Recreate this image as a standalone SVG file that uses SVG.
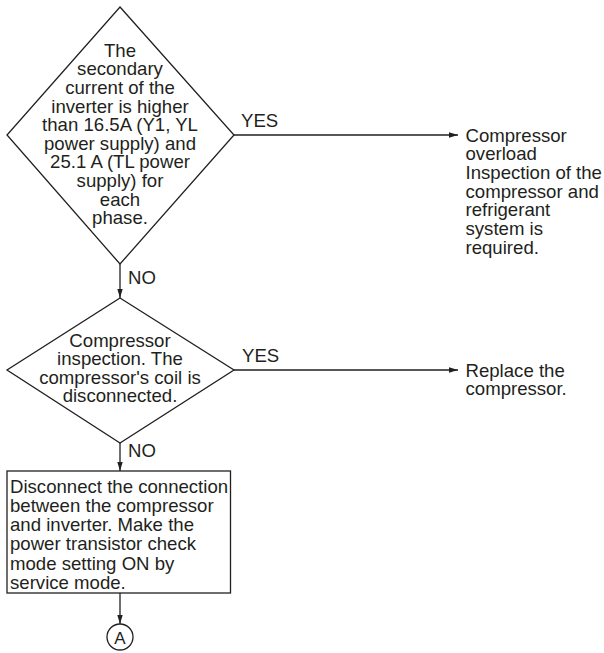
<svg xmlns="http://www.w3.org/2000/svg" width="604" height="653" viewBox="0 0 604 653">
<style>
text{font-family:"Liberation Sans",Arial,Helvetica,sans-serif;font-size:18.6px;fill:#231f20}
.c{text-anchor:middle}
.shape{fill:#fff;stroke:#231f20;stroke-width:1.3}
.ln{fill:none;stroke:#231f20;stroke-width:1.3}
</style>
<defs>
<marker id="ah" markerUnits="userSpaceOnUse" markerWidth="10" markerHeight="8" refX="9" refY="4" orient="auto">
<path d="M0,1.3 L9,4 L0,6.7 Z" fill="#231f20"/>
</marker>
</defs>
<rect width="604" height="653" fill="#fff"/>
<g id="connectors">
<line class="ln" x1="234" y1="135" x2="458" y2="135" marker-end="url(#ah)"/>
<text x="241" y="127">YES</text>
<line class="ln" x1="120" y1="264" x2="120" y2="298" marker-end="url(#ah)"/>
<text x="128" y="284">NO</text>
<line class="ln" x1="234" y1="370" x2="458" y2="370" marker-end="url(#ah)"/>
<text x="242" y="362">YES</text>
<line class="ln" x1="120" y1="443" x2="120" y2="471" marker-end="url(#ah)"/>
<text x="128" y="457">NO</text>
<line class="ln" x1="120" y1="593" x2="120" y2="624" marker-end="url(#ah)"/>
</g>
<g id="decision1">
<polygon class="shape" points="120,7 234,135 120,264 7,135"/>
<text class="c" x="120" y="56.5">The</text>
<text class="c" x="120" y="75.2">secondary</text>
<text class="c" x="120" y="93.8">current of the</text>
<text class="c" x="120" y="112.5">inverter is higher</text>
<text class="c" x="120" y="131.1">than 16.5A (Y1, YL</text>
<text class="c" x="120" y="149.8">power supply) and</text>
<text class="c" x="120" y="168.4">25.1 A (TL power</text>
<text class="c" x="120" y="187.1">supply) for</text>
<text class="c" x="120" y="205.7">each</text>
<text class="c" x="120" y="224.4">phase.</text>
</g>
<g id="result1">
<text x="465.5" y="141.5">Compressor</text>
<text x="465.5" y="160.2">overload</text>
<text x="465.5" y="178.9">Inspection of the</text>
<text x="465.5" y="197.6">compressor and</text>
<text x="465.5" y="216.3">refrigerant</text>
<text x="465.5" y="235">system is</text>
<text x="465.5" y="253.7">required.</text>
</g>
<g id="decision2">
<polygon class="shape" points="120,298 234,370 120,443 7,370"/>
<text class="c" x="120" y="347">Compressor</text>
<text class="c" x="120" y="365.3">inspection. The</text>
<text class="c" x="120" y="383.6">compressor's coil is</text>
<text class="c" x="120" y="401.9">disconnected.</text>
</g>
<g id="result2">
<text x="465.5" y="376.5">Replace the</text>
<text x="465.5" y="395">compressor.</text>
</g>
<g id="process">
<rect class="shape" x="7" y="471" width="223.5" height="122"/>
<text x="10" y="492.8">Disconnect the connection</text>
<text x="10" y="512">between the compressor</text>
<text x="10" y="531.2">and inverter. Make the</text>
<text x="10" y="550.4">power transistor check</text>
<text x="10" y="569.6">mode setting ON by</text>
<text x="10" y="588.8">service mode.</text>
</g>
<g id="connectorA">
<circle class="shape" cx="120" cy="637" r="13"/>
<text class="c" x="120" y="643.5" style="font-size:17px">A</text>
</g>
</svg>
